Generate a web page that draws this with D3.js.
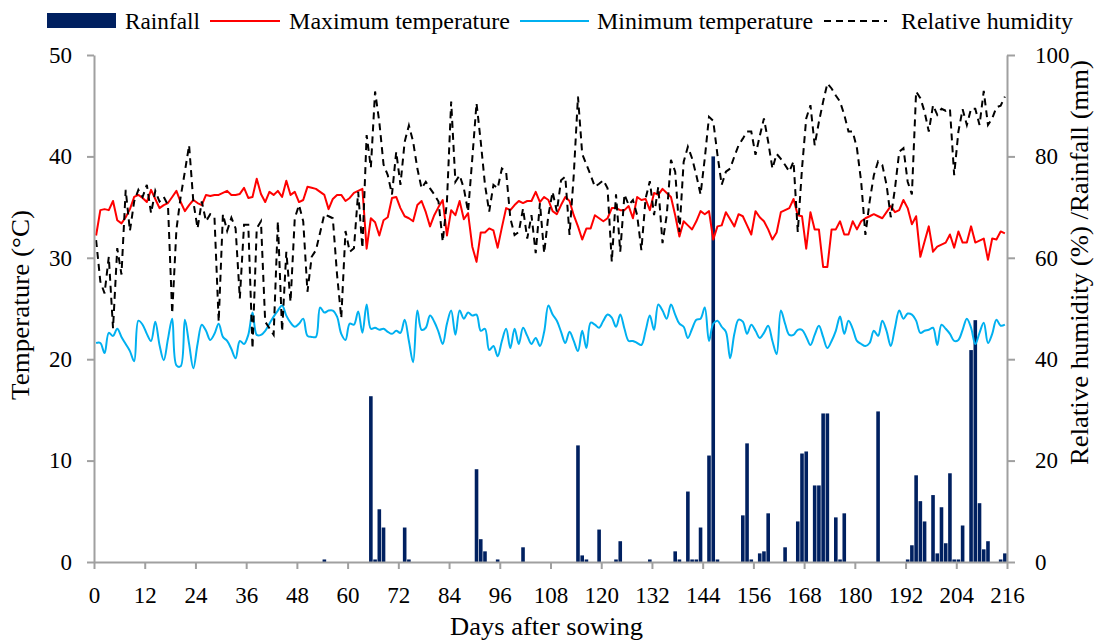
<!DOCTYPE html>
<html>
<head>
<meta charset="utf-8">
<script src="https://cdn.jsdelivr.net/npm/d3@7"></script>
<style>
  body { margin: 0; background: #fff; }
</style>
</head>
<body>
<div id="chart"></div>
<script>
// daily series, index 0..215 (days after sowing)
const tmax = [32.2,34.7,34.8,34.7,35.6,33.7,33.4,34.0,34.8,36.0,36.2,35.9,35.5,36.7,35.8,34.9,35.2,35.4,36.0,36.6,
  35.5,34.6,35.2,35.7,35.4,35.2,36.2,36.1,36.2,36.2,36.4,36.6,36.2,36.2,36.3,36.9,35.9,36.0,37.8,36.3,
  35.5,36.5,36.2,36.6,36.0,37.6,36.2,36.5,35.5,35.7,37.0,36.9,36.8,36.5,36.2,34.8,35.8,36.2,36.2,35.6,
  35.9,36.4,36.6,36.8,30.9,33.9,33.5,32.2,33.7,34.0,35.9,36.0,34.9,34.1,33.9,33.6,35.2,35.6,34.5,33.1,
  34.2,35.0,35.7,32.2,34.7,34.2,35.6,33.8,34.4,31.1,29.6,32.5,32.5,32.9,32.7,31.0,33.0,34.9,34.7,35.2,
  35.6,35.4,35.6,35.6,36.5,35.5,36.0,35.7,34.6,34.3,35.2,36.0,35.6,34.2,33.1,31.8,32.9,32.9,34.2,33.9,
  33.6,33.9,34.9,34.9,34.7,34.7,35.1,33.9,36.0,35.7,35.8,34.7,36.4,36.2,36.8,36.4,36.0,34.2,32.1,33.6,
  33.2,32.8,33.6,34.6,34.3,34.6,31.8,33.1,33.2,34.5,33.8,33.1,34.3,34.1,33.2,32.3,34.6,34.0,33.6,32.8,
  31.8,32.5,34.5,34.7,34.9,35.8,34.2,34.1,30.9,34.5,32.8,32.8,29.1,29.1,32.8,32.8,33.6,32.3,32.3,33.6,
  32.8,33.6,33.9,34.1,34.3,34.1,33.9,34.5,35.1,34.5,34.7,35.7,34.9,33.3,34.1,30.1,31.6,33.1,30.6,31.1,
  31.3,31.5,32.3,31.0,32.6,31.5,31.5,33.1,31.5,31.7,31.9,29.8,31.9,31.8,32.6,32.4];

const tmin = [21.6,21.6,20.6,22.6,22.3,23.0,22.2,21.5,20.8,19.8,23.8,23.4,22.5,21.8,23.7,21.4,19.9,22.0,24.0,19.4,
  19.3,23.9,21.5,19.1,21.5,23.4,22.8,21.9,22.5,23.5,22.2,21.8,21.0,20.1,21.8,21.5,22.4,24.6,22.4,22.4,
  22.8,23.5,24.2,24.8,25.3,24.3,23.6,23.2,23.5,24.0,22.3,22.2,22.2,25.1,24.6,24.8,24.8,24.2,22.5,21.9,
  23.5,23.4,24.7,22.6,25.4,23.0,23.1,22.9,23.0,22.7,22.5,22.8,22.6,23.9,21.8,19.7,24.8,22.9,23.1,24.3,
  23.7,22.7,21.5,23.5,24.8,22.4,24.8,24.0,24.6,24.3,24.4,22.8,23.0,20.9,21.3,20.3,21.8,23.0,21.1,23.0,
  21.5,23.1,22.3,21.5,22.1,21.3,22.7,25.3,24.4,23.8,22.7,21.6,22.7,21.8,20.8,22.8,21.1,23.6,23.4,23.1,
  23.8,24.4,24.1,23.2,24.4,23.0,21.8,21.8,21.6,21.4,22.8,24.3,22.9,25.4,24.8,24.0,25.4,24.4,23.5,23.2,
  22.1,23.0,23.9,24.0,25.1,21.8,23.5,23.8,23.2,22.7,20.1,22.5,23.9,23.7,22.5,23.4,22.8,22.1,22.6,23.3,
  21.8,20.5,24.8,23.5,22.4,22.4,22.9,22.9,22.2,21.4,22.4,23.3,22.2,21.1,21.8,22.8,24.2,22.5,23.8,23.0,
  21.8,21.5,21.3,21.6,22.8,22.3,23.8,22.8,21.3,23.1,24.8,24.0,24.5,24.4,23.8,22.6,22.8,22.9,23.1,21.4,
  23.4,23.0,22.5,21.8,21.9,22.9,24.0,23.1,21.5,22.6,23.6,21.6,22.5,23.9,23.3,23.4];

const humidity = [63.5,55.3,53.0,60.2,46.1,61.9,56.7,73.4,65.3,71.1,73.4,72.0,74.4,68.8,73.2,71.1,72.0,70.4,49.0,65.6,
  72.0,77.0,82.2,71.1,65.8,71.1,67.2,68.6,68.0,47.4,68.6,65.3,67.9,65.8,52.0,66.5,66.5,42.1,65.8,67.2,
  47.4,46.1,44.8,67.2,45.5,61.2,51.3,67.8,70.4,67.2,53.3,60.2,61.5,65.0,68.6,68.2,67.8,56.7,48.1,65.3,
  61.2,61.9,73.0,61.9,84.2,77.8,92.8,86.8,78.4,76.3,72.5,80.9,74.4,82.9,86.1,82.9,77.6,73.7,75.0,73.7,
  72.5,71.1,63.2,71.1,90.8,75.0,76.3,73.7,69.1,79.6,90.5,82.9,74.4,69.1,74.4,73.7,77.6,77.0,67.8,64.5,
  65.1,69.7,63.8,68.4,60.9,70.8,60.9,68.4,73.0,69.1,75.3,76.0,64.5,76.3,91.8,80.5,78.4,76.3,74.0,74.6,
  75.3,73.7,59.2,72.5,61.2,72.5,70.4,71.4,68.4,61.5,71.7,75.1,68.4,74.0,62.9,68.4,79.3,77.0,65.1,78.9,
  81.9,79.6,76.3,72.5,79.6,87.8,87.0,80.3,74.4,77.0,77.6,80.0,82.2,83.5,84.9,84.9,80.3,84.0,87.5,82.9,
  77.6,80.5,79.5,78.3,77.0,79.0,65.1,77.6,87.5,90.1,82.2,86.8,90.8,94.4,93.4,92.0,90.8,88.2,84.9,84.9,
  81.6,75.0,64.5,71.1,76.3,79.0,78.3,74.4,68.0,73.7,80.9,81.6,75.0,72.5,92.8,91.5,88.8,84.9,90.1,88.2,
  89.4,89.0,89.4,76.3,84.9,89.3,86.2,89.4,89.4,86.2,92.9,86.2,87.5,89.7,90.0,91.8];

// rainfall is sparse: day index and amount (mm)
const rainDays = [54,65,66,67,68,73,74,90,91,92,95,101,114,115,116,119,123,124,131,137,138,
  140,141,142,143,145,146,147,153,154,155,157,158,159,163,166,167,168,170,171,172,173,175,176,177,185,
  192,193,194,195,196,198,199,200,201,202,203,204,205,207,208,209,210,211,214,215];
const rainMm = [0.5,32.7,0.5,10.4,6.8,6.8,0.5,18.3,4.5,2.1,0.5,2.9,23.0,1.3,0.5,6.4,0.5,4.1,0.5,2.1,0.5,
  13.9,0.5,0.5,6.8,21.0,80.0,0.5,9.2,23.4,0.5,1.7,2.1,9.6,2.9,8.0,21.4,21.8,15.1,15.1,29.3,29.3,8.8,0.5,9.6,29.7,
  0.5,3.3,17.1,12.0,8.0,13.2,1.7,10.8,3.7,17.5,0.5,0.5,7.2,41.8,47.7,11.6,2.5,4.1,0.5,1.7];

const dayTicks = d3.range(0, 217, 12);
const tempTicks = [0, 10, 20, 30, 40, 50];
const rightTicks = [0, 20, 40, 60, 80, 100];

const width = 1097, height = 641;
const plotLeft = 94, plotRight = 1007, plotTop = 55, plotBottom = 562;
const serif = "'Times New Roman', 'Liberation Serif', 'DejaVu Serif', serif";

const svg = d3.select("#chart").append("svg")
  .attr("width", width)
  .attr("height", height)
  .style("display", "block");

const x = d3.scaleLinear().domain([0, 216]).range([plotLeft, plotRight]);
const yT = d3.scaleLinear().domain([0, 50]).range([plotBottom, plotTop]);
const yR = d3.scaleLinear().domain([0, 100]).range([plotBottom, plotTop]);

const axisColor = "#a0a0a0";

// rainfall bars
const rain = rainDays.map((d, i) => ({ day: d, mm: rainMm[i] }));
svg.append("g")
  .selectAll("rect")
  .data(rain)
  .join("rect")
  .attr("x", d => x(d.day + 0.5) - 1.8)
  .attr("width", 3.6)
  .attr("y", d => yR(d.mm))
  .attr("height", d => yR(0) - yR(d.mm))
  .attr("fill", "#002060");

// lines
const lineMin = d3.line().x((d, i) => x(i + 0.5)).y(d => yT(d)).curve(d3.curveCatmullRom);
const lineMax = d3.line().x((d, i) => x(i + 0.5)).y(d => yT(d));
const lineHum = d3.line().x((d, i) => x(i + 0.5)).y(d => yR(d));

svg.append("path")
  .datum(tmin)
  .attr("fill", "none")
  .attr("stroke", "#00b0f0")
  .attr("stroke-width", 2)
  .attr("d", lineMin);

svg.append("path")
  .datum(tmax)
  .attr("fill", "none")
  .attr("stroke", "#ff0000")
  .attr("stroke-width", 2)
  .attr("stroke-linejoin", "round")
  .attr("d", lineMax);

svg.append("path")
  .datum(humidity)
  .attr("fill", "none")
  .attr("stroke", "#000")
  .attr("stroke-width", 2)
  .attr("stroke-dasharray", "7,5")
  .attr("d", lineHum);

// axes
function styleAxis(g) {
  g.attr("font-family", serif);
  g.select(".domain").attr("stroke", axisColor).attr("stroke-width", 2);
  g.selectAll(".tick line").attr("stroke", axisColor).attr("stroke-width", 2);
  g.selectAll(".tick text")
    .style("font-family", serif)
    .style("font-size", "23px")
    .attr("fill", "#000");
}

svg.append("g")
  .attr("transform", `translate(${plotLeft},0)`)
  .call(d3.axisLeft(yT).tickValues(tempTicks).tickSize(7).tickSizeOuter(0).tickPadding(15))
  .call(styleAxis);

svg.append("g")
  .attr("transform", `translate(${plotRight},0)`)
  .call(d3.axisRight(yR).tickValues(rightTicks).tickSize(8).tickSizeOuter(0).tickPadding(20))
  .call(styleAxis);

svg.append("g")
  .attr("transform", `translate(0,${plotBottom})`)
  .call(d3.axisBottom(x).tickValues(dayTicks).tickSize(7).tickSizeOuter(0).tickPadding(18))
  .call(styleAxis);

// axis titles
svg.append("text")
  .attr("transform", "translate(29,400) rotate(-90)")
  .attr("textLength", 190)
  .attr("lengthAdjust", "spacingAndGlyphs")
  .style("font-family", serif)
  .style("font-size", "25px")
  .text("Temperature (°C)");

svg.append("text")
  .attr("transform", "translate(1088,465) rotate(-90)")
  .attr("textLength", 405)
  .attr("lengthAdjust", "spacingAndGlyphs")
  .style("font-family", serif)
  .style("font-size", "25px")
  .text("Relative humidity (%) /Rainfall (mm)");

svg.append("text")
  .attr("x", 450)
  .attr("y", 635)
  .attr("textLength", 193)
  .attr("lengthAdjust", "spacingAndGlyphs")
  .style("font-family", serif)
  .style("font-size", "25px")
  .text("Days after sowing");

// legend
const legend = svg.append("g");
legend.append("rect")
  .attr("x", 47).attr("y", 13).attr("width", 69).attr("height", 15)
  .attr("fill", "#002060");

const legendItems = [
  { label: "Rainfall", tx: 125, tw: 75 },
  { label: "Maximum temperature", x1: 210, x2: 280, color: "#ff0000", tx: 289, tw: 221 },
  { label: "Minimum temperature", x1: 520, x2: 589, color: "#00b0f0", tx: 597, tw: 216 },
  { label: "Relative humidity", x1: 824, x2: 887, color: "#000", dash: "7,5", tx: 901, tw: 172 }
];

legendItems.forEach(d => {
  if (d.x1) {
    legend.append("line")
      .attr("x1", d.x1).attr("x2", d.x2)
      .attr("y1", 21).attr("y2", 21)
      .attr("stroke", d.color)
      .attr("stroke-width", 2)
      .attr("stroke-dasharray", d.dash || null);
  }
  legend.append("text")
    .attr("x", d.tx)
    .attr("y", 29)
    .attr("textLength", d.tw)
    .attr("lengthAdjust", "spacingAndGlyphs")
    .style("font-family", serif)
    .style("font-size", "24px")
    .text(d.label);
});
</script>
</body>
</html>
